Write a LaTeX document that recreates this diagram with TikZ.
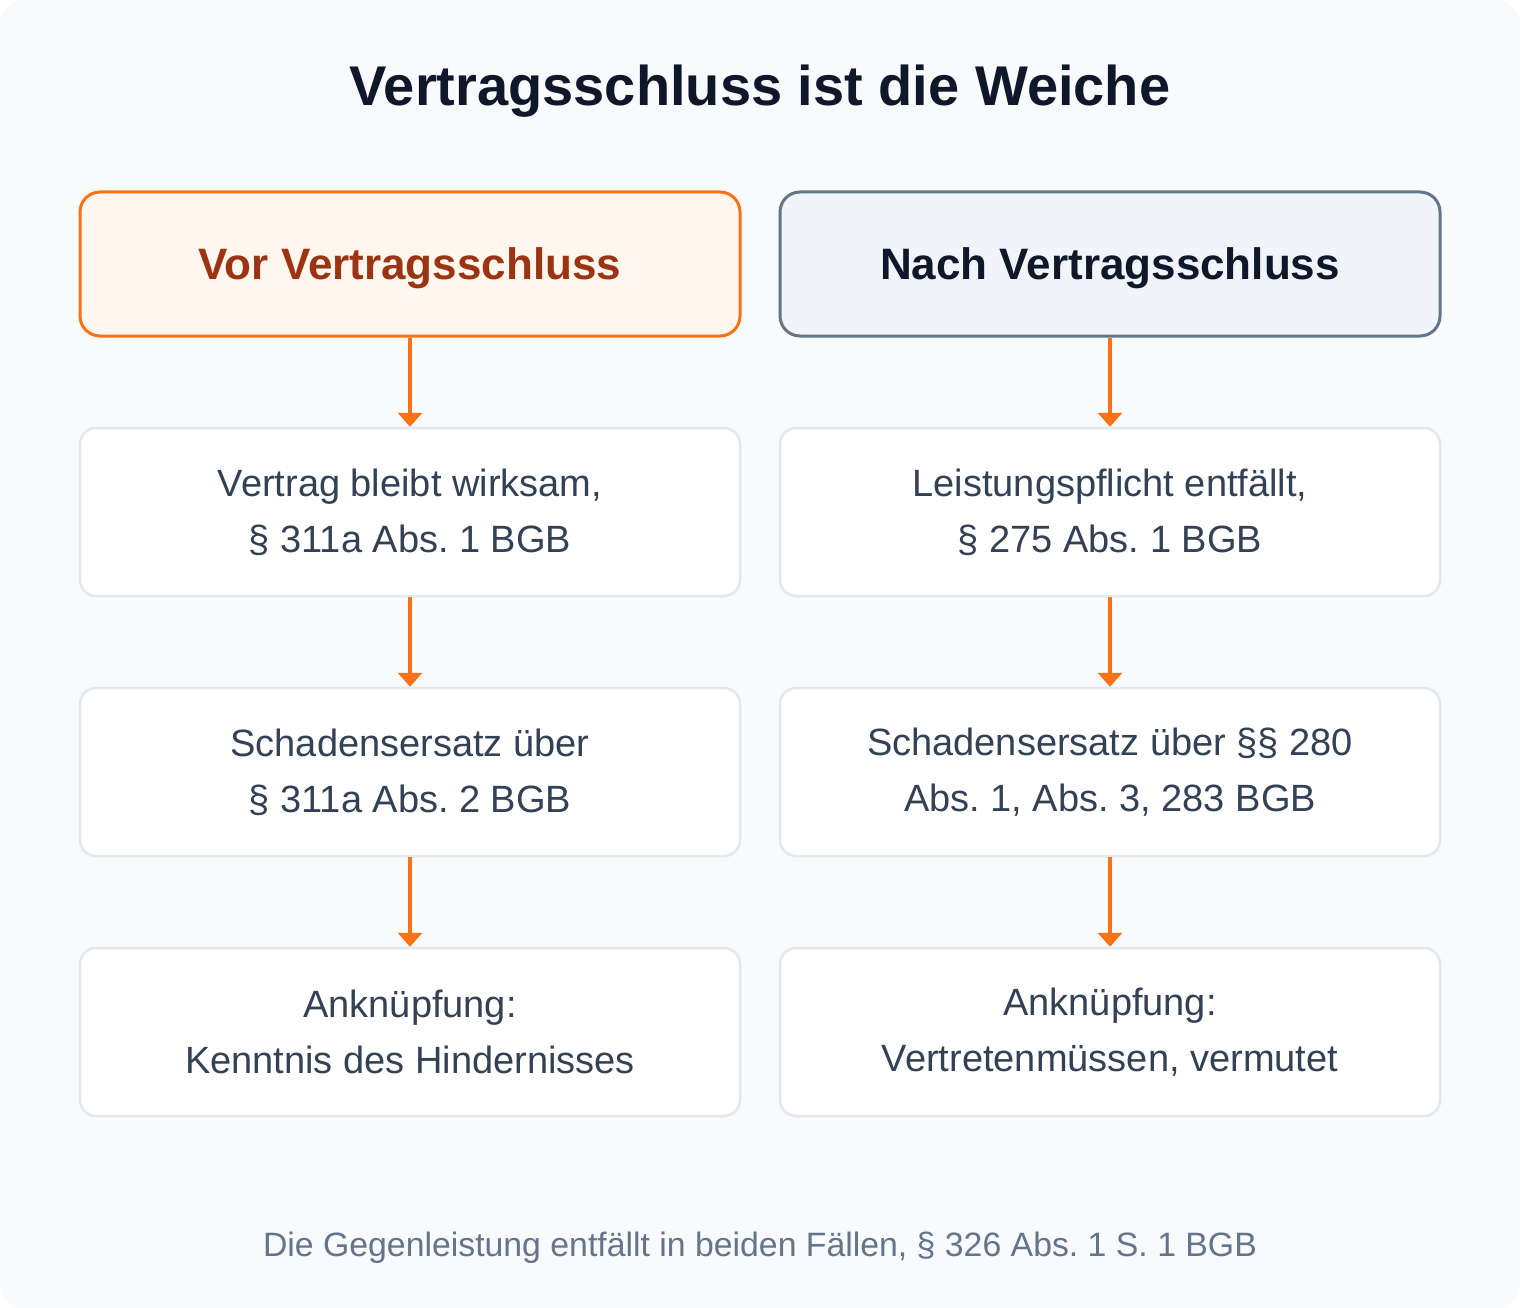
\documentclass[tikz,border=0pt]{standalone}
\usepackage{fontspec}
\setmainfont{Liberation Sans}
\usetikzlibrary{arrows.meta}
\frenchspacing

% Farben
\definecolor{pageBg}{HTML}{F8FAFC}
\definecolor{titleInk}{HTML}{0F172A}
\definecolor{vorFill}{HTML}{FFF7ED}
\definecolor{vorLine}{HTML}{F97316}
\definecolor{vorInk}{HTML}{9A3412}
\definecolor{nachFill}{HTML}{F1F5F9}
\definecolor{nachLine}{HTML}{64748B}
\definecolor{boxLine}{HTML}{E2E8F0}
\definecolor{boxInk}{HTML}{334155}
\definecolor{noteInk}{HTML}{64748B}

\tikzset{
  headbox/.style={rounded corners=20pt, line width=3pt,
    minimum width=660pt, minimum height=144pt, inner sep=0pt, text depth=0pt,
    font=\fontsize{44}{52}\selectfont\bfseries},
  stepbox/.style={draw=boxLine, fill=white, rounded corners=16pt, line width=2.5pt,
    minimum width=660pt, minimum height=168pt, inner sep=0pt, align=center,
    text=boxInk, font=\fontsize{38}{56}\selectfont},
  flow/.style={draw=vorLine, line width=4pt,
    -{Triangle[width=24pt,length=14pt]}}
}

\begin{document}
\begin{tikzpicture}[x=1pt,y=-1pt]
  % Parameter
  \def\colL{410} % Mitte linke Spalte
  \def\colR{1110} % Mitte rechte Spalte

  % Hintergrund
  \fill[white] (0,0) rectangle (1520,1308);
  \fill[pageBg, rounded corners=24pt] (0,0) rectangle (1520,1308);
  \useasboundingbox (0,0) rectangle (1520,1308);

  % Titel
  \node (titel) at (760,106) [anchor=base, text=titleInk,
    font=\fontsize{56}{64}\selectfont\bfseries] {Vertragsschluss ist die Weiche};

  % Kopfzeilen
  \node (vor) at (\colL,264) [headbox, draw=vorLine, fill=vorFill, text=vorInk] {Vor Vertragsschluss};
  \node (nach) at (\colR,264) [headbox, draw=nachLine, fill=nachFill, text=titleInk] {Nach Vertragsschluss};

  % Linke Spalte
  \node (vor1) at (\colL,512) [stepbox] {Vertrag bleibt wirksam,\\§ 311a Abs. 1 BGB};
  \node (vor2) at (\colL,772) [stepbox] {Schadensersatz über\\§ 311a Abs. 2 BGB};
  \node (vor3) at (\colL,1032) [stepbox] {Anknüpfung:\\Kenntnis des Hindernisses};

  % Rechte Spalte
  \node (nach1) at (\colR,512) [stepbox] {Leistungspflicht entfällt,\\§ 275 Abs. 1 BGB};
  \node (nach2) at (\colR,772) [stepbox] {Schadensersatz über §§ 280\\Abs. 1, Abs. 3, 283 BGB};
  \node (nach3) at (\colR,1032) [stepbox] {Anknüpfung:\\Vertretenmüssen, vermutet};

  % Pfeile
  \foreach \side in {vor,nach}
  {
    \draw[flow] (\side.south) -- (\side1.north);
    \draw[flow] (\side1.south) -- (\side2.north);
    \draw[flow] (\side2.south) -- (\side3.north);
  }

  % Fussnote
  \node (fuss) at (760,1256) [anchor=base, text=noteInk,
    font=\fontsize{33.8}{40}\selectfont] {Die Gegenleistung entfällt in beiden Fällen, § 326 Abs. 1 S. 1 BGB};
\end{tikzpicture}
\end{document}
